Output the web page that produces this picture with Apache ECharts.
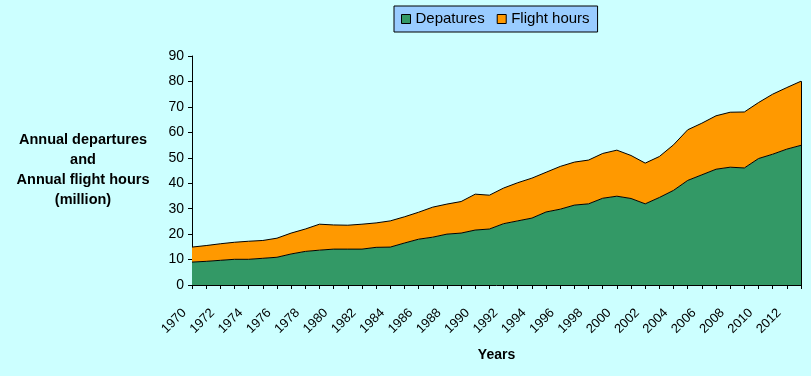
<!DOCTYPE html>
<html>
<head>
<meta charset="utf-8">
<script src="https://cdn.jsdelivr.net/npm/echarts@6/dist/echarts.min.js"></script>
<style>
  html, body { margin: 0; padding: 0; background: #ccffff; }
  #chart { width: 811px; height: 376px; }
</style>
</head>
<body>
<div id="chart"></div>
<script>
const years = [];
for (let y = 1970; y <= 2013; y++) years.push(String(y));

// million departures per year
const departures = [
  9.0, 9.3, 9.7, 10.1, 10.1, 10.5, 10.9, 12.2, 13.2, 13.7,
  14.1, 14.1, 14.1, 14.8, 14.9, 16.5, 18.0, 18.8, 20.0, 20.4,
  21.6, 22.0, 24.1, 25.2, 26.3, 28.7, 29.8, 31.4, 31.9, 34.1,
  34.9, 34.0, 31.9, 34.4, 37.2, 41.1, 43.3, 45.5, 46.3, 46.0,
  49.7, 51.4, 53.4, 54.9,
];
// million flight hours per year (stacked on top of departures)
const flightHours = [
  5.9, 6.2, 6.5, 6.7, 7.1, 7.0, 7.5, 8.2, 8.8, 10.2,
  9.5, 9.4, 9.8, 9.6, 10.3, 10.3, 10.6, 11.8, 11.8, 12.4,
  14.1, 13.3, 14.0, 15.0, 15.7, 15.6, 16.8, 16.9, 17.2, 17.6,
  18.1, 16.9, 16.0, 16.1, 17.9, 19.9, 20.3, 21.0, 21.6, 22.0,
  22.0, 23.6, 24.2, 25.2,
];
const yTicks = { min: 0, max: 90, interval: 10 };

const font = "Arial, 'Liberation Sans', sans-serif";
const lastYear = years[years.length - 1];
const lastTotal = departures[departures.length - 1] + flightHours[flightHours.length - 1];

const chart = echarts.init(document.getElementById("chart"));
chart.setOption({
  backgroundColor: "#ccffff",
  animation: false,
  textStyle: { fontFamily: font },
  legend: {
    left: 394,
    top: 6,
    padding: [5, 8, 5, 7],
    itemGap: 12,
    itemWidth: 9,
    itemHeight: 9,
    itemStyle: { borderColor: "#000", borderWidth: 1 },
    backgroundColor: "#99ccff",
    borderColor: "#000",
    borderWidth: 1,
    icon: "rect",
    textStyle: { fontSize: 15, color: "#000", fontFamily: font, lineHeight: 16 },
    data: ["Depatures", "Flight hours"],
  },
  grid: { left: 192, right: 10, top: 56, bottom: 91 },
  graphic: [{
    type: "text",
    left: 13,
    top: 130,
    style: {
      text: "Annual departures\nand\nAnnual flight hours\n(million)",
      fontFamily: font,
      fontSize: 14.5,
      fontWeight: "bold",
      lineHeight: 20,
      fill: "#000",
      textAlign: "center",
      width: 140,
      align: "center",
    },
  }],
  xAxis: {
    type: "category",
    data: years,
    boundaryGap: false,
    name: "Years",
    nameLocation: "middle",
    nameGap: 63,
    nameTextStyle: { fontSize: 14, fontWeight: "bold", color: "#000", fontFamily: font },
    axisLine: { lineStyle: { color: "#000", width: 1 } },
    axisTick: { interval: 0, length: 4, lineStyle: { color: "#000" } },
    axisLabel: {
      interval: 1, rotate: 45, fontSize: 13, color: "#000",
      margin: 18, padding: [0, 11, 0, 0], fontFamily: font,
    },
    splitLine: { show: false },
  },
  yAxis: {
    type: "value",
    min: yTicks.min,
    max: yTicks.max,
    interval: yTicks.interval,
    axisLine: { show: true, lineStyle: { color: "#000", width: 1 } },
    axisTick: { show: true, length: 4, lineStyle: { color: "#000" } },
    axisLabel: { fontSize: 14, color: "#000", margin: 8, fontFamily: font },
    splitLine: { show: false },
  },
  series: [
    {
      name: "Depatures",
      type: "line",
      stack: "total",
      data: departures,
      symbol: "none",
      lineStyle: { color: "#000", width: 1 },
      itemStyle: { color: "#339966" },
      areaStyle: { color: "#339966", opacity: 1 },
    },
    {
      name: "Flight hours",
      type: "line",
      stack: "total",
      data: flightHours,
      symbol: "none",
      lineStyle: { color: "#000", width: 1 },
      itemStyle: { color: "#ff9900" },
      areaStyle: { color: "#ff9900", opacity: 1 },
      markLine: {
        silent: true,
        symbol: "none",
        label: { show: false },
        lineStyle: { color: "#000", width: 1, type: "solid" },
        data: [[{ coord: [lastYear, 0] }, { coord: [lastYear, lastTotal] }]],
      },
    },
  ],
});
</script>
</body>
</html>
